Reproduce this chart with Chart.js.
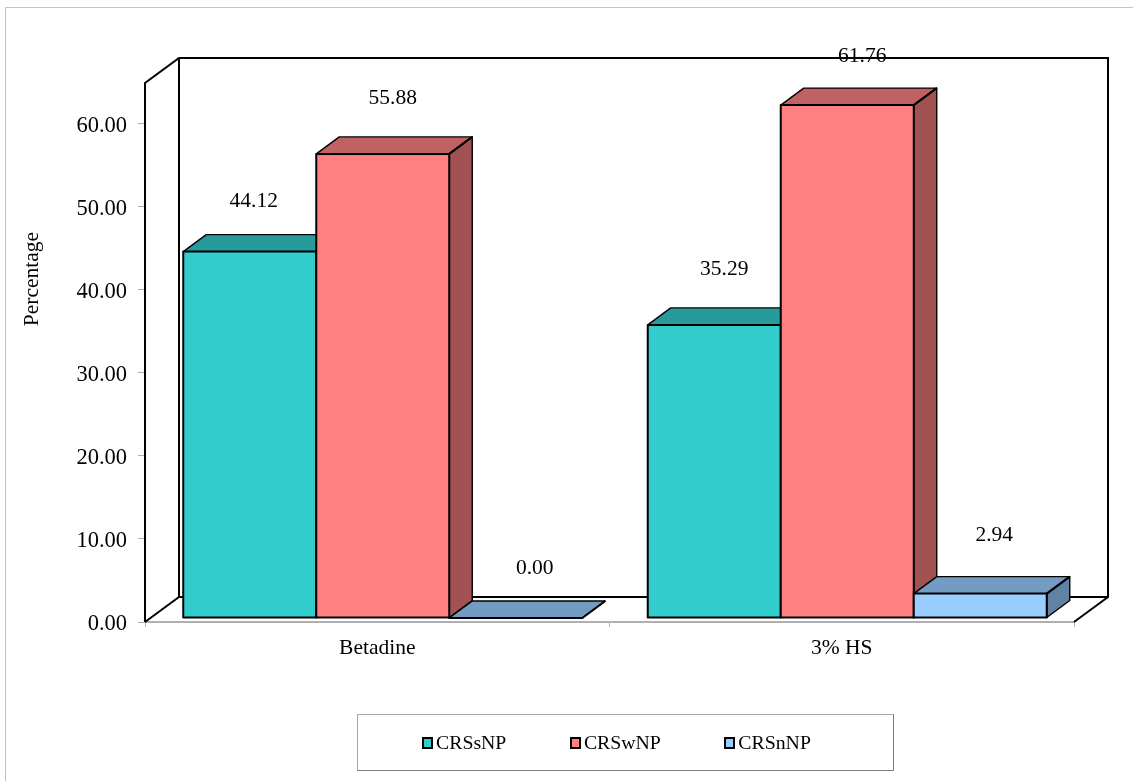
<!DOCTYPE html>
<html>
<head>
<meta charset="utf-8">
<title>Percentage by group</title>
<script src="https://cdn.jsdelivr.net/npm/chart.js@4/dist/chart.umd.min.js"></script>
<style>
  html, body { margin: 0; padding: 0; background: #fff; }
  #wrap { position: relative; width: 1133px; height: 781px; overflow: hidden; }
  #frame { position: absolute; left: 5px; top: 7px; width: 1140px; height: 800px;
           border-left: 1px solid #c4c4c4; border-top: 1px solid #c4c4c4; }
  canvas { position: absolute; left: 0; top: 0; }
  #legend { position: absolute; left: 357px; top: 714px; width: 535px; height: 55px;
            border: 1px solid #a8a8a8; border-right-color: #808080; border-bottom-color: #808080;
            font: 19.8px "Liberation Serif", serif; color: #000; }
  #legend .row { position: absolute; left: 64px; top: 15px; display: flex; gap: 63.5px; line-height: 24px; white-space: nowrap; }
  #legend .swatch { display: inline-block; width: 7px; height: 8px; border: 2px solid #000; margin-right: 3px; }
</style>
</head>
<body>
<div id="wrap">
  <div id="frame"></div>
  <canvas id="myChart" width="1133" height="781"></canvas>
  <div id="legend"><div class="row"></div></div>
</div>
<script>
const groups = ["Betadine", "3% HS"];
const seriesNames = ["CRSsNP", "CRSwNP", "CRSnNP"];
const crsSNP = [44.12, 35.29];
const crsWNP = [55.88, 61.76];
const crsNNP = [0.00, 2.94];
const axisTitle = "Percentage";

const fronts = ["#33cccc", "#ff8080", "#99ccff"];
const tops = ["#279b9b", "#c06262", "#749bc2"];
const sides = ["#1f8080", "#a25252", "#6182a3"];

const FONT = '"Liberation Serif", serif';
// box depth of the whole plot, and of each bar inside it
const WALL = { x: 34, y: 25 };
const BAR = { x: 23, y: 17 };
const INSET = { x: 5.5, y: 4 };
// hand placement of the value labels, [series][group], relative to the bar's top centre
const labelShift = [
  [[4, -50], [10, -56]],
  [[10, -56], [15, -49]],
  [[19, -50], [14, -58]]
];

function poly(ctx, pts, fill, lw) {
  ctx.beginPath();
  pts.forEach((p, i) => (i ? ctx.lineTo(p[0], p[1]) : ctx.moveTo(p[0], p[1])));
  ctx.closePath();
  ctx.fillStyle = fill;
  ctx.fill();
  ctx.lineWidth = lw;
  ctx.strokeStyle = "#000";
  ctx.lineJoin = "round";
  ctx.stroke();
}

function drawWalls(chart) {
  const { ctx, chartArea: a } = chart;
  const l = a.left, r = a.right, t = a.top, b = a.bottom;
  ctx.save();
  ctx.strokeStyle = "#000";
  ctx.lineWidth = 2;
  ctx.beginPath();
  ctx.moveTo(l, b);
  ctx.lineTo(l, t);
  ctx.lineTo(l + WALL.x, t - WALL.y);
  ctx.lineTo(r + WALL.x, t - WALL.y);
  ctx.lineTo(r + WALL.x, b - WALL.y);
  ctx.lineTo(r, b);
  ctx.moveTo(l, b);
  ctx.lineTo(l + WALL.x, b - WALL.y);
  ctx.lineTo(r + WALL.x, b - WALL.y);
  ctx.moveTo(l + WALL.x, t - WALL.y);
  ctx.lineTo(l + WALL.x, b - WALL.y);
  ctx.stroke();
  ctx.restore();
}

// top and side faces of one bar; the library's bar is the front face
function drawDepth(ctx, bar, i) {
  const p = bar.getProps(["x", "y", "base", "width"], true);
  const x0 = p.x - p.width / 2, x1 = p.x + p.width / 2;
  poly(ctx, [[x0, p.y], [x1, p.y], [x1 + BAR.x, p.y - BAR.y], [x0 + BAR.x, p.y - BAR.y]], tops[i], 1.4);
  if (p.base > p.y) {
    poly(ctx, [[x1, p.y], [x1 + BAR.x, p.y - BAR.y], [x1 + BAR.x, p.base - BAR.y], [x1, p.base]], sides[i], 1.4);
  }
}

// chart.js insets its bar borders, these outlines sit centred on the bar's edges
function drawOutline(ctx, bar) {
  const p = bar.getProps(["x", "y", "base", "width"], true);
  const x0 = p.x - p.width / 2, x1 = p.x + p.width / 2;
  ctx.strokeStyle = "#000";
  ctx.lineWidth = 2;
  ctx.strokeRect(x0, p.y, p.width, p.base - p.y);
  ctx.beginPath();
  ctx.moveTo(x1, p.y);
  ctx.lineTo(x1 + BAR.x, p.y - BAR.y);
  ctx.stroke();
}

function drawLabels(chart) {
  const { ctx } = chart;
  ctx.save();
  ctx.font = "21.5px " + FONT;
  ctx.fillStyle = "#000";
  ctx.textAlign = "center";
  ctx.textBaseline = "middle";
  chart.data.datasets.forEach((ds, i) => {
    chart.getDatasetMeta(i).data.forEach((bar, j) => {
      const s = labelShift[i][j];
      ctx.fillText(ds.data[j].toFixed(2), bar.x + INSET.x + s[0], bar.y - INSET.y + s[1]);
    });
  });
  ctx.translate(32, 279);
  ctx.rotate(-Math.PI / 2);
  ctx.fillText(axisTitle, 0, 0);
  ctx.restore();
}

const box3d = {
  id: "box3d",
  // y tick labels sit a little below their tick marks
  afterUpdate(chart) {
    chart.scales.y.getLabelItems().forEach(item => { item.options.translation[1] += 2; });
  },
  // series have to paint left to right so each front covers its neighbour's side,
  // chart.js would go last to first, so the whole pass is done here
  beforeDatasetsDraw(chart) {
    const { ctx } = chart;
    drawWalls(chart);
    chart.data.datasets.forEach((ds, i) => {
      const meta = chart.getDatasetMeta(i);
      ctx.save();
      ctx.translate(INSET.x, -INSET.y);
      meta.data.forEach(bar => drawDepth(ctx, bar, i));
      meta.controller.draw();
      meta.data.forEach(bar => drawOutline(ctx, bar));
      ctx.restore();
    });
    drawLabels(chart);
    return false;
  }
};

const seriesValues = [crsSNP, crsWNP, crsNNP];

const chart = new Chart(document.getElementById("myChart").getContext("2d"), {
  type: "bar",
  data: {
    labels: groups,
    datasets: seriesNames.map((name, i) => ({
      label: name,
      data: seriesValues[i],
      backgroundColor: fronts[i],
      borderWidth: 0,
      barPercentage: 1,
      categoryPercentage: 0.859
    }))
  },
  plugins: [box3d],
  options: {
    responsive: false,
    animation: false,
    layout: { padding: { top: 83, right: 59, left: 0, bottom: 0 } },
    plugins: { legend: { display: false }, tooltip: { enabled: false } },
    scales: {
      x: {
        afterFit(s) { s.height = 159; },
        border: { color: "#b0b0b0", width: 2 },
        grid: { drawOnChartArea: false, color: "#b0b0b0", tickLength: 5 },
        ticks: { color: "#000", font: { family: FONT, size: 21.5 }, padding: 8, maxRotation: 0 }
      },
      y: {
        min: 0,
        max: 64.9,
        afterFit(s) { s.width = 145; },
        border: { display: false },
        grid: { drawOnChartArea: false, color: "#b0b0b0", tickLength: 7 },
        ticks: {
          stepSize: 10,
          includeBounds: false,
          color: "#000",
          font: { family: FONT, size: 22.5 },
          padding: 11,
          callback: v => v.toFixed(2)
        }
      }
    }
  }
});

// legend row under the plot
const row = document.querySelector("#legend .row");
seriesNames.forEach((name, i) => {
  const item = document.createElement("span");
  const swatch = document.createElement("span");
  swatch.className = "swatch";
  swatch.style.background = fronts[i];
  item.appendChild(swatch);
  item.appendChild(document.createTextNode(name));
  row.appendChild(item);
});
</script>
</body>
</html>
